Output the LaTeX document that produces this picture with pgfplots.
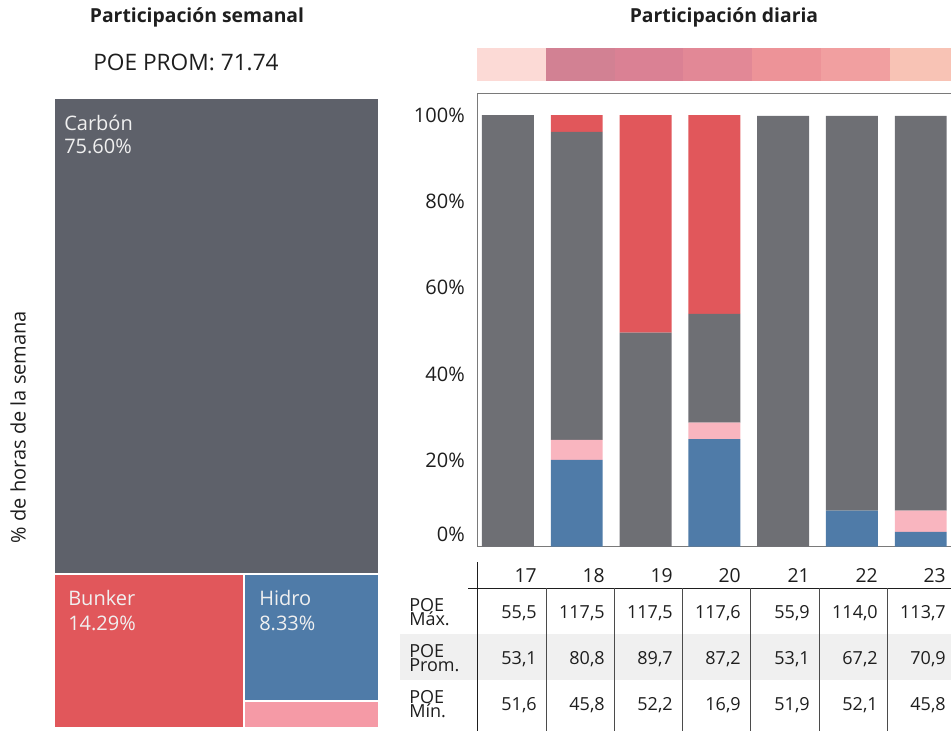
\documentclass[border=0pt]{standalone}
\usepackage{fontspec}
\setmainfont{Open Sans}
\usepackage{pgfplots}
\pgfplotsset{compat=1.18}
\usepackage{pgfplotstable}

\definecolor{carbontm}{HTML}{5E616A}
\definecolor{carbon}{HTML}{6E6F74}
\definecolor{bunker}{HTML}{E1575B}
\definecolor{hidro}{HTML}{4F7BA8}
\definecolor{otro}{HTML}{F9B5BF}
\definecolor{otrotm}{HTML}{F59AA6}
\definecolor{marco}{HTML}{7A7A7A}
\definecolor{banda}{HTML}{F0F0F0}
\definecolor{texto}{HTML}{1E1E1E}
\definecolor{h1}{HTML}{FCDAD6}
\definecolor{h2}{HTML}{D28193}
\definecolor{h3}{HTML}{DA8194}
\definecolor{h4}{HTML}{E28896}
\definecolor{h5}{HTML}{ED9398}
\definecolor{h6}{HTML}{F19FA0}
\definecolor{h7}{HTML}{F8C3B5}

% participacion diaria (% de horas), dias 17..23 en x = 0..6
\pgfplotstableread{
x hidro otro carbon bunker
0 0    0   100  0
1 20.1 4.6 71.4 3.9
2 0    0   49.6 50.4
3 24.9 3.8 25.2 46.1
4 0    0   99.8 0
5 8.3  0   91.5 0
6 3.4  4.9 91.5 0
}\diaria

\newcommand{\fs}[1]{\fontsize{#1}{1.2\dimexpr#1pt\relax}\selectfont}

\begin{document}
\begin{tikzpicture}

% treemap semanal
\begin{axis}[
    at={(40.5pt,-546pt)}, anchor=south west,
    scale only axis, width=243.75pt, height=472.5pt,
    xmin=0, xmax=1, ymin=0, ymax=1, y dir=reverse,
    hide axis, clip=false,
]
\addplot[fill=carbontm, draw=white, line width=1.5pt] coordinates {(0,0) (1,0) (1,0.756) (0,0.756)} -- cycle;
\addplot[fill=bunker, draw=white, line width=1.5pt] coordinates {(0,0.756) (0.5857,0.756) (0.5857,1) (0,1)} -- cycle;
\addplot[fill=hidro, draw=white, line width=1.5pt] coordinates {(0.5857,0.756) (1,0.756) (1,0.9567) (0.5857,0.9567)} -- cycle;
\addplot[fill=otrotm, draw=white, line width=1.5pt] coordinates {(0.5857,0.9567) (1,0.9567) (1,1) (0.5857,1)} -- cycle;
\end{axis}

% franja de color diaria
\begin{axis}[
    at={(357.75pt,-60.75pt)}, anchor=south west,
    scale only axis, width=363.75pt, height=24.75pt,
    xmin=-0.45, xmax=6.6, ymin=0, ymax=1,
    hide axis,
]
\addplot[fill=h1, draw=none] coordinates {(-0.45,0) (0.55,0) (0.55,1) (-0.45,1)} -- cycle;
\addplot[fill=h2, draw=none] coordinates {(0.55,0) (1.55,0) (1.55,1) (0.55,1)} -- cycle;
\addplot[fill=h3, draw=none] coordinates {(1.55,0) (2.55,0) (2.55,1) (1.55,1)} -- cycle;
\addplot[fill=h4, draw=none] coordinates {(2.55,0) (3.55,0) (3.55,1) (2.55,1)} -- cycle;
\addplot[fill=h5, draw=none] coordinates {(3.55,0) (4.55,0) (4.55,1) (3.55,1)} -- cycle;
\addplot[fill=h6, draw=none] coordinates {(4.55,0) (5.55,0) (5.55,1) (4.55,1)} -- cycle;
\addplot[fill=h7, draw=none] coordinates {(5.55,0) (6.55,0) (6.55,1) (5.55,1)} -- cycle;
\end{axis}

% barras apiladas
\begin{axis}[
    at={(357.75pt,-409.875pt)}, anchor=south west,
    scale only axis, width=363.75pt, height=339.4pt,
    xmin=-0.45, xmax=6.6, ymin=0, ymax=104.9,
    ybar stacked, bar width=0.755,
    axis line style={marco, line width=0.75pt},
    xtick=\empty,
    ytick={20,40,60,80,100},
    yticklabels={20\%,40\%,60\%,80\%,100\%},
    major tick length=0pt,
    yticklabel style={font=\fs{15}, text=texto, inner sep=0pt, xshift=-9pt},
]
\addplot[fill=hidro, draw=none] table[x=x, y=hidro] {\diaria};
\addplot[fill=otro, draw=none] table[x=x, y=otro] {\diaria};
\addplot[fill=carbon, draw=none] table[x=x, y=carbon] {\diaria};
\addplot[fill=bunker, draw=none] table[x=x, y=bunker] {\diaria};
\end{axis}

\begin{scope}[x=0.75pt,y=-0.75pt]
% textos
\node[anchor=base, font=\bfseries\fs{14.5}, text=texto] at (197,23) {Participación semanal};
\node[anchor=base, font=\bfseries\fs{14.5}, text=texto] at (724,23) {Participación diaria};
\node[anchor=base, font=\fs{17}, text=texto] at (186,71) {POE PROM: 71.74};
\node[anchor=center, rotate=90, font=\fs{15}, text=texto] at (18,427) {\% de horas de la semana};
\node[anchor=east, inner sep=0pt, font=\fs{15}, text=texto] at (465,534) {0\%};

\begin{scope}[font=\fs{15}, text=white!94!black]
\node[anchor=base west, inner sep=0pt] at (64,131) {Carbón};
\node[anchor=base west, inner sep=0pt] at (64,154) {75.60\%};
\node[anchor=base west, inner sep=0pt] at (68,605) {Bunker};
\node[anchor=base west, inner sep=0pt] at (68,630) {14.29\%};
\node[anchor=base west, inner sep=0pt] at (259,605) {Hidro};
\node[anchor=base west, inner sep=0pt] at (259,630) {8.33\%};
\end{scope}

% tabla
\fill[banda] (400,634) rectangle (951,680);
\draw[texto, line width=0.75pt] (477,562) -- (477,731);
\draw[texto, line width=0.75pt] (468,588) -- (960,588);
\foreach \d in {546,614,682,750,819,887}
  \draw[texto!80, line width=0.75pt] (\d,588) -- (\d,731);

\begin{scope}[text=texto, inner sep=0pt]
\foreach \r/\t in {537/17,605/18,673/19,741/20,810/21,878/22,946/23}
  \node[anchor=base east, font=\fs{14.5}] at (\r,582) {\t};
\foreach \y/\l in {599/Máx.,645/Prom.,691/Mín.} {
  \node[anchor=base west, font=\fs{13.5}] at (409,\y+12) {POE};
  \node[anchor=base west, font=\fs{13.5}] at (409,\y+26) {\l};
}
\foreach \r/\v in {537/{55,5},605/{117,5},673/{117,5},741/{117,6},810/{55,9},878/{114,0},946/{113,7}}
  \node[anchor=base east, font=\fs{13.5}] at (\r,618) {\v};
\foreach \r/\v in {537/{53,1},605/{80,8},673/{89,7},741/{87,2},810/{53,1},878/{67,2},946/{70,9}}
  \node[anchor=base east, font=\fs{13.5}] at (\r,664) {\v};
\foreach \r/\v in {537/{51,6},605/{45,8},673/{52,2},741/{16,9},810/{51,9},878/{52,1},946/{45,8}}
  \node[anchor=base east, font=\fs{13.5}] at (\r,710) {\v};
\end{scope}

\pgfresetboundingbox
\path[use as bounding box] (0,0) rectangle (951,731);
\end{scope}
\end{tikzpicture}
\end{document}
